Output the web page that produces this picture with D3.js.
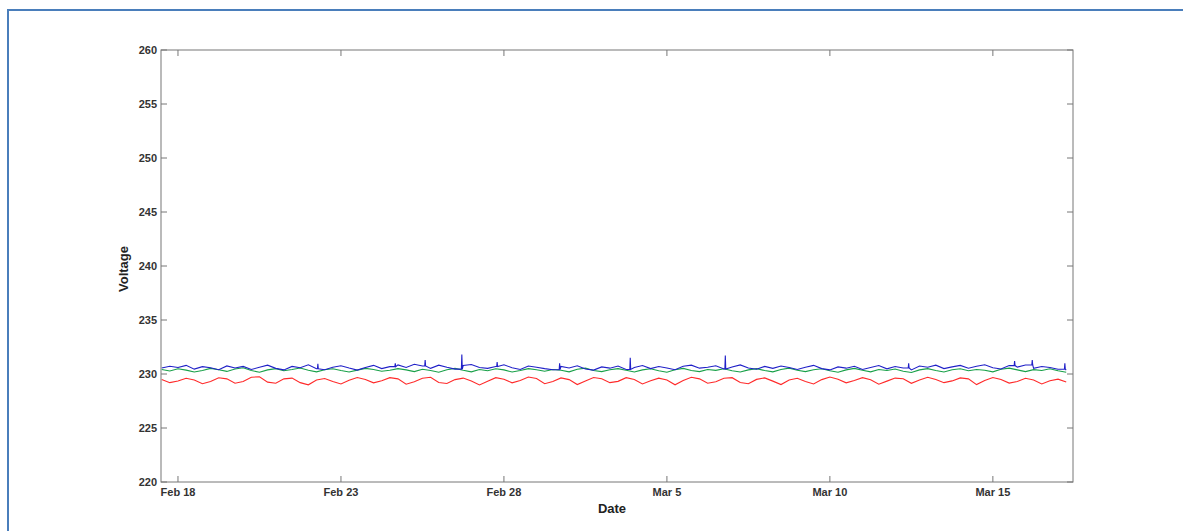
<!DOCTYPE html>
<html>
<head>
<meta charset="utf-8">
<script src="https://cdn.jsdelivr.net/npm/d3@7"></script>
<style>
  body { margin: 0; background: #fff; }
  svg { display: block; font-family: "Liberation Sans", Arial, sans-serif; }
</style>
</head>
<body>
<svg id="chart" width="1183" height="531"></svg>
<script>
// samples every 6 hours starting Feb 17 12:00
const startTime = new Date(2013, 1, 17, 12);
const stepHours = 6;

const blueValues = [230.55, 230.72, 230.60, 230.80, 230.45, 230.68, 230.58, 230.40, 230.75, 230.55, 230.70, 230.42, 230.62, 230.82, 230.52, 230.38, 230.70, 230.58, 230.85, 230.48, 230.40, 230.62, 230.76, 230.55, 230.36, 230.60, 230.80, 230.50, 230.68, 230.84, 230.60, 230.90, 230.74, 230.52, 230.82, 230.62, 230.45, 230.78, 230.88, 230.60, 230.52, 230.70, 230.85, 230.58, 230.42, 230.74, 230.62, 230.50, 230.40, 230.70, 230.56, 230.76, 230.46, 230.36, 230.66, 230.54, 230.74, 230.42, 230.60, 230.78, 230.50, 230.70, 230.56, 230.40, 230.72, 230.82, 230.54, 230.62, 230.76, 230.46, 230.64, 230.84, 230.56, 230.44, 230.70, 230.52, 230.74, 230.60, 230.42, 230.62, 230.80, 230.50, 230.38, 230.66, 230.54, 230.72, 230.42, 230.60, 230.78, 230.48, 230.70, 230.56, 230.38, 230.74, 230.62, 230.82, 230.50, 230.66, 230.80, 230.54, 230.72, 230.86, 230.58, 230.46, 230.78, 230.64, 230.84, 230.52, 230.70, 230.60, 230.44, 230.36];

const greenValues = [230.42, 230.28, 230.48, 230.36, 230.18, 230.32, 230.52, 230.40, 230.24, 230.46, 230.58, 230.32, 230.16, 230.38, 230.50, 230.30, 230.42, 230.56, 230.34, 230.20, 230.40, 230.48, 230.32, 230.18, 230.36, 230.52, 230.42, 230.26, 230.34, 230.50, 230.38, 230.22, 230.44, 230.32, 230.16, 230.40, 230.52, 230.34, 230.20, 230.42, 230.30, 230.48, 230.38, 230.18, 230.32, 230.50, 230.40, 230.26, 230.42, 230.34, 230.20, 230.44, 230.54, 230.32, 230.22, 230.40, 230.50, 230.34, 230.18, 230.38, 230.48, 230.30, 230.16, 230.40, 230.52, 230.32, 230.22, 230.42, 230.34, 230.48, 230.30, 230.18, 230.38, 230.50, 230.32, 230.20, 230.42, 230.54, 230.34, 230.22, 230.40, 230.48, 230.30, 230.16, 230.38, 230.52, 230.34, 230.20, 230.42, 230.32, 230.46, 230.26, 230.14, 230.38, 230.50, 230.32, 230.18, 230.40, 230.48, 230.30, 230.42, 230.34, 230.20, 230.44, 230.54, 230.38, 230.22, 230.40, 230.32, 230.48, 230.30, 230.16];

const redValues = [229.50, 229.20, 229.35, 229.60, 229.45, 229.10, 229.30, 229.65, 229.55, 229.15, 229.30, 229.70, 229.75, 229.25, 229.15, 229.55, 229.62, 229.20, 229.00, 229.45, 229.58, 229.30, 229.08, 229.42, 229.68, 229.50, 229.18, 229.38, 229.66, 229.55, 229.05, 229.28, 229.60, 229.70, 229.22, 229.12, 229.48, 229.62, 229.35, 228.98, 229.32, 229.66, 229.52, 229.18, 229.40, 229.72, 229.58, 229.10, 229.30, 229.64, 229.48, 229.02, 229.36, 229.68, 229.56, 229.20, 229.32, 229.66, 229.50, 229.08, 229.38, 229.62, 229.45, 229.00, 229.40, 229.70, 229.55, 229.15, 229.28, 229.60, 229.66, 229.22, 229.10, 229.50, 229.64, 229.34, 229.02, 229.45, 229.60, 229.30, 229.08, 229.48, 229.72, 229.52, 229.18, 229.40, 229.66, 229.46, 229.05, 229.34, 229.62, 229.56, 229.14, 229.44, 229.70, 229.50, 229.20, 229.36, 229.64, 229.55, 229.02, 229.40, 229.68, 229.50, 229.16, 229.30, 229.60, 229.45, 229.08, 229.38, 229.52, 229.25];

// short spikes on the blue phase: [time, peak voltage]
const blueSpikes = [
    [new Date(2013, 1, 22, 7), 230.95],
    [new Date(2013, 1, 24, 16), 231.0],
    [new Date(2013, 1, 25, 14), 231.3],
    [new Date(2013, 1, 26, 17), 231.8],
    [new Date(2013, 1, 27, 19), 231.1],
    [new Date(2013, 2, 1, 17), 231.0],
    [new Date(2013, 2, 3, 21), 231.5],
    [new Date(2013, 2, 6, 19), 231.7],
    [new Date(2013, 2, 12, 10), 231.0],
    [new Date(2013, 2, 15, 16), 231.2],
    [new Date(2013, 2, 16, 5), 231.3],
    [new Date(2013, 2, 17, 5), 231.0]
];

const yTicks = [220, 225, 230, 235, 240, 245, 250, 255, 260];
const xTicks = [new Date(2013, 1, 18), new Date(2013, 1, 23), new Date(2013, 1, 28),
                new Date(2013, 2, 5), new Date(2013, 2, 10), new Date(2013, 2, 15)];

const svg = d3.select('#chart');
const plotLeft = 161, plotTop = 50, plotRight = 1073, plotBottom = 482;

// outer frame
svg.append('rect')
    .attr('x', 8).attr('y', 10)
    .attr('width', 1200).attr('height', 600)
    .attr('fill', 'none')
    .attr('stroke', '#4a7ebb')
    .attr('stroke-width', 2);

const x = d3.scaleTime()
    .domain([new Date(2013, 1, 17, 11, 30), new Date(2013, 2, 17, 11, 0)])
    .range([plotLeft, plotRight]);
const y = d3.scaleLinear().domain([220, 260]).range([plotBottom, plotTop]);

const toSeries = vals => vals.map((v, i) => ({ t: new Date(startTime.getTime() + i * stepHours * 3600000), v: v }));

const blueSeries = toSeries(blueValues);
blueSpikes.forEach(([t, peak]) => {
    const i = Math.min(blueSeries.length - 1, Math.floor((t - startTime) / (stepHours * 3600000)));
    const base = blueValues[Math.max(0, i)];
    blueSeries.push({ t: new Date(t.getTime() - 20 * 60000), v: base });
    blueSeries.push({ t: t, v: peak });
    blueSeries.push({ t: new Date(t.getTime() + 20 * 60000), v: base });
});
blueSeries.sort((a, b) => a.t - b.t);

const line = d3.line().x(d => x(d.t)).y(d => y(d.v));

const plot = svg.append('g');
[[toSeries(redValues), '#ff2a2a'], [toSeries(greenValues), '#18a048'], [blueSeries, '#2020c8']]
    .forEach(([data, color]) => {
        plot.append('path')
            .datum(data)
            .attr('d', line)
            .attr('fill', 'none')
            .attr('stroke', color)
            .attr('stroke-width', 1.1);
    });

// axes box
svg.append('rect')
    .attr('x', plotLeft).attr('y', plotTop)
    .attr('width', plotRight - plotLeft).attr('height', plotBottom - plotTop)
    .attr('fill', 'none')
    .attr('stroke', '#777')
    .attr('stroke-width', 1);

const tickLen = 6;
const tickAttrs = sel => sel.attr('stroke', '#777').attr('stroke-width', 1);

// y ticks (left and right, inward)
yTicks.forEach(v => {
    tickAttrs(svg.append('line').attr('x1', plotLeft).attr('x2', plotLeft + tickLen).attr('y1', y(v)).attr('y2', y(v)));
    tickAttrs(svg.append('line').attr('x1', plotRight).attr('x2', plotRight - tickLen).attr('y1', y(v)).attr('y2', y(v)));
    svg.append('text')
        .attr('x', plotLeft - 4).attr('y', y(v) + 4)
        .attr('text-anchor', 'end')
        .attr('font-size', '11px')
        .attr('font-weight', 'bold')
        .attr('fill', '#333')
        .text(v);
});

// x ticks (bottom and top, inward)
const fmt = d3.timeFormat('%b %-d');
xTicks.forEach(d => {
    tickAttrs(svg.append('line').attr('x1', x(d)).attr('x2', x(d)).attr('y1', plotBottom).attr('y2', plotBottom - tickLen));
    tickAttrs(svg.append('line').attr('x1', x(d)).attr('x2', x(d)).attr('y1', plotTop).attr('y2', plotTop + tickLen));
    svg.append('text')
        .attr('x', x(d)).attr('y', plotBottom + 14)
        .attr('text-anchor', 'middle')
        .attr('font-size', '11px')
        .attr('font-weight', 'bold')
        .attr('fill', '#333')
        .text(fmt(d));
});

svg.append('text')
    .attr('x', 612).attr('y', plotBottom + 31)
    .attr('text-anchor', 'middle')
    .attr('font-size', '13px')
    .attr('font-weight', 'bold')
    .attr('fill', '#222')
    .text('Date');

svg.append('text')
    .attr('transform', `translate(128,${(plotTop + plotBottom) / 2 + 3}) rotate(-90)`)
    .attr('text-anchor', 'middle')
    .attr('font-size', '13px')
    .attr('font-weight', 'bold')
    .attr('fill', '#222')
    .text('Voltage');
</script>
</body>
</html>
